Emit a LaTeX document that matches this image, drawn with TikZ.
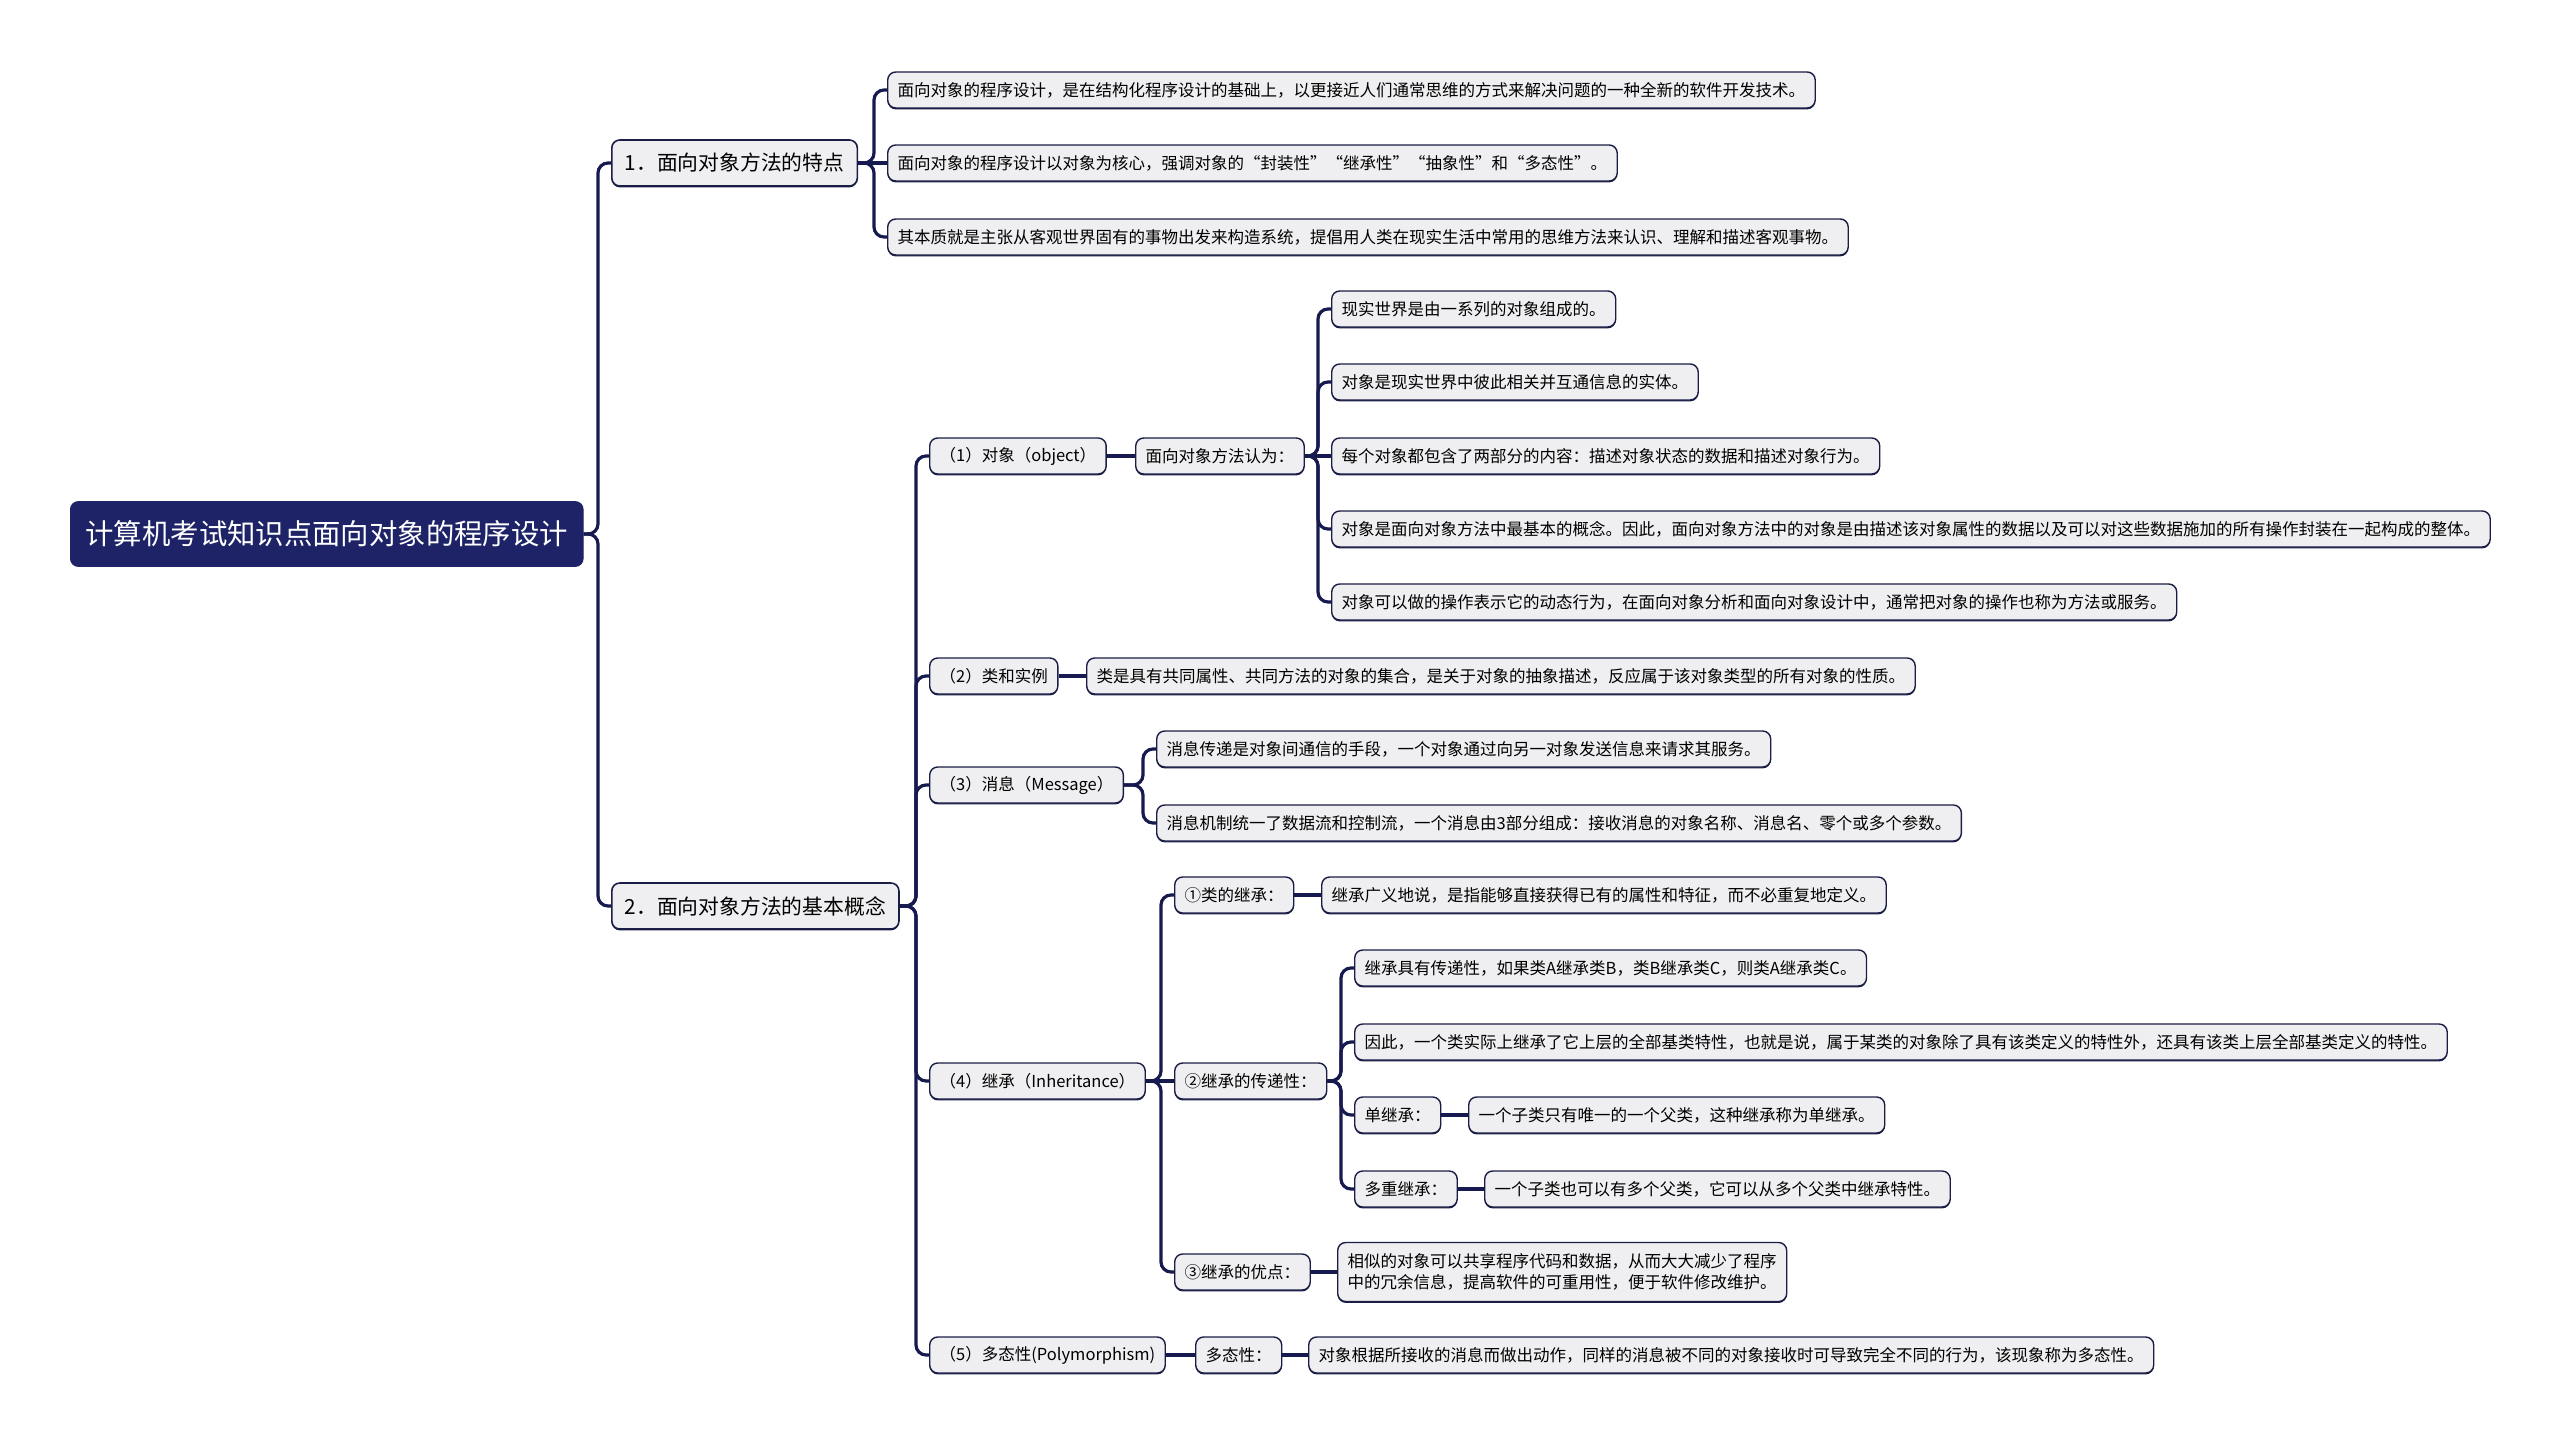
\documentclass[tikz,border=0pt]{standalone}
\usepackage{fontspec}
\setmainfont{Noto Sans CJK SC}
\usetikzlibrary{shadows}

\definecolor{rootblue}{HTML}{1D2366}
\definecolor{boxline}{HTML}{1A1D45}
\definecolor{boxfill}{HTML}{EFEFF1}
\definecolor{navyline}{HTML}{161A4E}

\tikzset{
  root/.style={draw=rootblue, fill=rootblue, text=white, rounded corners=4pt,
    font=\fontsize{14.2}{16}\selectfont, minimum height=32.5pt, inner xsep=7.5pt, anchor=west},
  topic/.style={draw=boxline, fill=boxfill, rounded corners=4pt, line width=0.8pt,
    drop shadow={shadow xshift=0pt, shadow yshift=-0.7pt, fill=boxline, opacity=1},
    font=\fontsize{10.4}{12}\selectfont, minimum height=23pt, inner xsep=6.5pt, anchor=west},
  leaf/.style={draw=boxline, fill=boxfill, rounded corners=4pt, line width=0.7pt,
    drop shadow={shadow xshift=0pt, shadow yshift=-0.7pt, fill=boxline, opacity=1},
    font=\fontsize{8.25}{10.6}\selectfont, minimum height=18pt, inner xsep=5pt, anchor=west},
  link/.style={draw=navyline, line width=1.6pt, rounded corners=5pt}
}

\begin{document}
\begin{tikzpicture}[x=0.5pt, y=-0.5pt]
  \useasboundingbox (0,0) rectangle (2560,1445);

  % centre and main branches
  \node [root] (root) at (70,534) {计算机考试知识点面向对象的程序设计};
  \node [topic] (feat) at (611,163) {1．面向对象方法的特点};
  \node [topic] (basic) at (611,906) {2．面向对象方法的基本概念};
  \draw [link] (root.east) -| ([xshift=-6.5pt]feat.west) -- (feat.west);
  \draw [link] (root.east) -| ([xshift=-6.5pt]basic.west) -- (basic.west);

  % 1. features
  \node [leaf] (feat1) at (887,90) {面向对象的程序设计，是在结构化程序设计的基础上，以更接近人们通常思维的方式来解决问题的一种全新的软件开发技术。};
  \node [leaf] (feat2) at (887,163) {面向对象的程序设计以对象为核心，强调对象的“封装性”“继承性”“抽象性”和“多态性”。};
  \node [leaf] (feat3) at (887,237) {其本质就是主张从客观世界固有的事物出发来构造系统，提倡用人类在现实生活中常用的思维方法来认识、理解和描述客观事物。};
  \draw [link] (feat.east) -| ([xshift=-6.5pt]feat1.west) -- (feat1.west);
  \draw [link] (feat.east) -- (feat2.west);
  \draw [link] (feat.east) -| ([xshift=-6.5pt]feat3.west) -- (feat3.west);

  % 2. basic concepts
  \node [leaf] (obj) at (929,456) {（1）对象（object）};
  \node [leaf] (cls) at (929,676) {（2）类和实例};
  \node [leaf] (msg) at (929,785) {（3）消息（Message）};
  \node [leaf] (inh) at (929,1081) {（4）继承（Inheritance）};
  \node [leaf] (poly) at (929,1355) {（5）多态性(Polymorphism)};
  \foreach \n in {obj,cls,msg,inh,poly}
    \draw [link] (basic.east) -| ([xshift=-6.5pt]\n.west) -- (\n.west);

  % (1) object
  \node [leaf] (objview) at (1135,456) {面向对象方法认为：};
  \draw [link] (obj.east) -- (objview.west);
  \node [leaf] (obj1) at (1331,309) {现实世界是由一系列的对象组成的。};
  \node [leaf] (obj2) at (1331,382) {对象是现实世界中彼此相关并互通信息的实体。};
  \node [leaf] (obj3) at (1331,456) {每个对象都包含了两部分的内容：描述对象状态的数据和描述对象行为。};
  \node [leaf] (obj4) at (1331,529) {对象是面向对象方法中最基本的概念。因此，面向对象方法中的对象是由描述该对象属性的数据以及可以对这些数据施加的所有操作封装在一起构成的整体。};
  \node [leaf] (obj5) at (1331,602) {对象可以做的操作表示它的动态行为，在面向对象分析和面向对象设计中，通常把对象的操作也称为方法或服务。};
  \foreach \n in {obj1,obj2,obj4,obj5}
    \draw [link] (objview.east) -| ([xshift=-6.5pt]\n.west) -- (\n.west);
  \draw [link] (objview.east) -- (obj3.west);

  % (2) class
  \node [leaf] (cls1) at (1086,676) {类是具有共同属性、共同方法的对象的集合，是关于对象的抽象描述，反应属于该对象类型的所有对象的性质。};
  \draw [link] (cls.east) -- (cls1.west);

  % (3) message
  \node [leaf] (msg1) at (1156,749) {消息传递是对象间通信的手段，一个对象通过向另一对象发送信息来请求其服务。};
  \node [leaf] (msg2) at (1156,823) {消息机制统一了数据流和控制流，一个消息由3部分组成：接收消息的对象名称、消息名、零个或多个参数。};
  \draw [link] (msg.east) -| ([xshift=-6.5pt]msg1.west) -- (msg1.west);
  \draw [link] (msg.east) -| ([xshift=-6.5pt]msg2.west) -- (msg2.west);

  % (4) inheritance
  \node [leaf] (inhA) at (1174,895) {①类的继承：};
  \node [leaf] (inhB) at (1174,1081) {②继承的传递性：};
  \node [leaf] (inhC) at (1174,1272) {③继承的优点：};
  \draw [link] (inh.east) -| ([xshift=-6.5pt]inhA.west) -- (inhA.west);
  \draw [link] (inh.east) -- (inhB.west);
  \draw [link] (inh.east) -| ([xshift=-6.5pt]inhC.west) -- (inhC.west);
  \node [leaf] (inhA1) at (1321,895) {继承广义地说，是指能够直接获得已有的属性和特征，而不必重复地定义。};
  \draw [link] (inhA.east) -- (inhA1.west);
  \node [leaf] (inhB1) at (1354,968) {继承具有传递性，如果类A继承类B，类B继承类C，则类A继承类C。};
  \node [leaf] (inhB2) at (1354,1042) {因此，一个类实际上继承了它上层的全部基类特性，也就是说，属于某类的对象除了具有该类定义的特性外，还具有该类上层全部基类定义的特性。};
  \node [leaf] (single) at (1354,1115) {单继承：};
  \node [leaf] (multi) at (1354,1189) {多重继承：};
  \foreach \n in {inhB1,inhB2,single,multi}
    \draw [link] (inhB.east) -| ([xshift=-6.5pt]\n.west) -- (\n.west);
  \node [leaf] (single1) at (1468,1115) {一个子类只有唯一的一个父类，这种继承称为单继承。};
  \node [leaf] (multi1) at (1484,1189) {一个子类也可以有多个父类，它可以从多个父类中继承特性。};
  \draw [link] (single.east) -- (single1.west);
  \draw [link] (multi.east) -- (multi1.west);
  \node [leaf, align=left, minimum height=29.5pt] (inhC1) at (1337,1272) {相似的对象可以共享程序代码和数据，从而大大减少了程序\\中的冗余信息，提高软件的可重用性，便于软件修改维护。};
  \draw [link] (inhC.east) -- (inhC1.west);

  % (5) polymorphism
  \node [leaf] (polyA) at (1195,1355) {多态性：};
  \node [leaf] (polyA1) at (1308,1355) {对象根据所接收的消息而做出动作，同样的消息被不同的对象接收时可导致完全不同的行为，该现象称为多态性。};
  \draw [link] (poly.east) -- (polyA.west);
  \draw [link] (polyA.east) -- (polyA1.west);
\end{tikzpicture}
\end{document}
